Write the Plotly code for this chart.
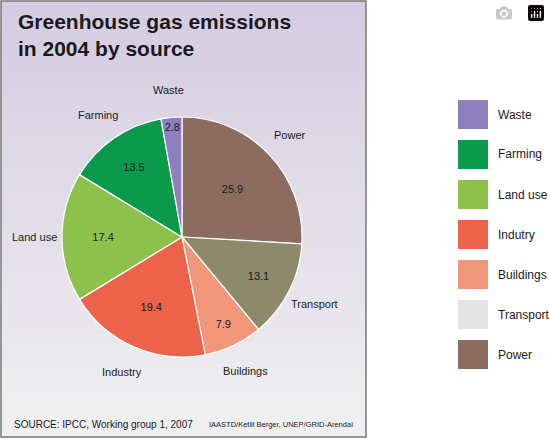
import math
import plotly.graph_objects as go

sources = ["Power", "Transport", "Buildings", "Industry", "Land use", "Farming", "Waste"]
values = [25.9, 13.1, 7.9, 19.4, 17.4, 13.5, 2.8]
pie_colors = ["#8b6c5e", "#8d8a6b", "#f2967a", "#ec6349", "#8dc14b", "#0b9a4b", "#8e80bf"]

legend_labels = ["Waste", "Farming", "Land use", "Indutry", "Buildings", "Transport", "Power"]
legend_colors = ["#8e80bf", "#0b9a4b", "#8dc14b", "#ec6349", "#f2967a", "#e4e4e4", "#8b6c5e"]

W, H = 550, 440
cx, cy, R = 182, 237, 120

fig = go.Figure()
fig.add_trace(go.Pie(
    labels=sources, values=values, sort=False, direction="clockwise", rotation=0,
    marker=dict(colors=pie_colors, line=dict(color="white", width=1.2)),
    texttemplate="%{value}", textposition="inside", insidetextorientation="horizontal",
    textfont=dict(family="Liberation Sans, Arial", size=11, color="#1a1a1a"),
    domain=dict(x=[(cx - R) / W, (cx + R) / W], y=[1 - (cy + R) / H, 1 - (cy - R) / H]),
    showlegend=False, hoverinfo="label+value",
))

shapes = []
n = 60
top = (212, 204, 226)
bot = (240, 240, 240)
x0p, x1p, y0p, y1p = 1, 366, 1, 437
for i in range(n):
    t = i / (n - 1)
    c = tuple(round(top[k] + (bot[k] - top[k]) * t) for k in range(3))
    ya = y0p + (y1p - y0p) * i / n
    yb = y0p + (y1p - y0p) * (i + 1) / n + 0.5
    shapes.append(dict(type="rect", xref="paper", yref="paper", layer="below",
                       x0=x0p / W, x1=x1p / W, y0=1 - yb / H, y1=1 - ya / H,
                       fillcolor="rgb(%d,%d,%d)" % c, line=dict(width=0)))
shapes.append(dict(type="rect", xref="paper", yref="paper", layer="below",
                   x0=x0p / W, x1=x1p / W, y0=1 - y1p / H, y1=1 - y0p / H,
                   line=dict(color="#777777", width=1.5)))

annotations = []
total = sum(values)
cum = 0
lr = 148
for s, v in zip(sources, values):
    mid = (cum + v / 2) / total * 2 * math.pi
    cum += v
    x = cx + lr * math.sin(mid)
    y = cy - lr * math.cos(mid)
    annotations.append(dict(x=x / W, y=1 - y / H, xref="paper", yref="paper", text=s,
                            showarrow=False, xanchor="center", yanchor="middle",
                            font=dict(family="Liberation Sans, Arial", size=11, color="#1a1a1a")))

for i, (lab, col) in enumerate(zip(legend_labels, legend_colors)):
    yt = 100 + 40 * i
    shapes.append(dict(type="rect", xref="paper", yref="paper",
                       x0=458 / W, x1=488 / W, y0=1 - (yt + 29) / H, y1=1 - yt / H,
                       fillcolor=col, line=dict(width=0)))
    annotations.append(dict(x=496 / W, y=1 - (yt + 14.5) / H, xref="paper", yref="paper",
                            text=lab, showarrow=False, xanchor="left", yanchor="middle",
                            font=dict(family="Liberation Sans, Arial", size=12, color="#1a1a1a")))

annotations.append(dict(x=16 / W, y=1 - 8 / H, xref="paper", yref="paper",
                        text="<b>Greenhouse gas emissions<br>in 2004 by source</b>",
                        showarrow=False, xanchor="left", yanchor="top", align="left",
                        font=dict(family="Liberation Sans, Arial", size=21, color="#1a1a1a")))
annotations.append(dict(x=12 / W, y=1 - 424 / H, xref="paper", yref="paper",
                        text="SOURCE: IPCC, Working group 1, 2007", showarrow=False,
                        xanchor="left", yanchor="middle",
                        font=dict(family="Liberation Sans, Arial", size=10, color="#1a1a1a")))
annotations.append(dict(x=355 / W, y=1 - 424 / H, xref="paper", yref="paper",
                        text="IAASTD/Ketill Berger, UNEP/GRID-Arendal", showarrow=False,
                        xanchor="right", yanchor="middle",
                        font=dict(family="Liberation Sans Narrow, Arial Narrow, Liberation Sans", size=7.5, color="#1a1a1a")))

fig.update_layout(width=W, height=H, margin=dict(l=0, r=0, t=0, b=0),
                  paper_bgcolor="white", plot_bgcolor="white",
                  shapes=shapes, annotations=annotations)
fig.write_html("out.html",
               post_script="document.body.style.margin='0';document.body.style.overflow='hidden';")
